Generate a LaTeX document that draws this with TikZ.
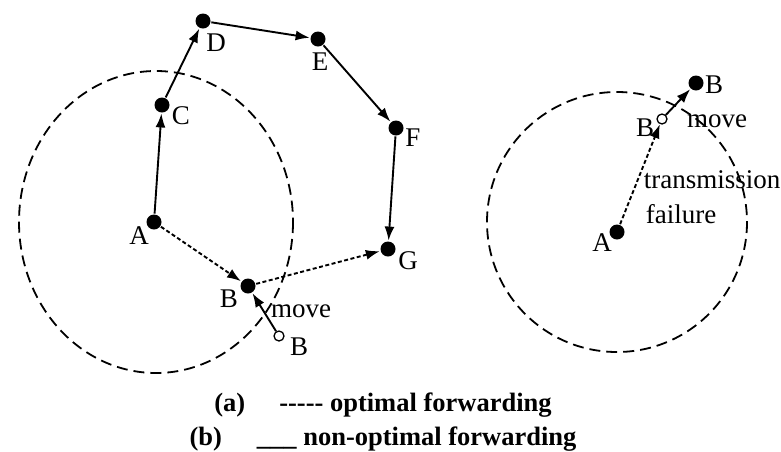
\documentclass[tikz,border=0pt]{standalone}
\usepackage{fontspec}
\setmainfont{Liberation Serif}
\usetikzlibrary{arrows.meta}

\begin{document}
\begin{tikzpicture}[x=1pt, y=-1pt, >={Latex[length=14pt,width=10pt]}, line width=1.9pt,
    dot/.style={circle, fill, inner sep=0pt, minimum size=15pt},
    hollow/.style={circle, draw, fill=white, line width=1.3pt, inner sep=0pt, minimum size=10pt},
    lbl/.style={inner sep=0pt, font=\fontsize{27}{30}\selectfont},
    captiontext/.style={inner sep=0pt, anchor=base, font=\fontsize{26.5}{30}\selectfont\bfseries},
    radiorange/.style={dash pattern=on 11pt off 6pt, line width=1.8pt},
    relay/.style={->, dash pattern=on 4pt off 2.5pt}]
  \useasboundingbox (0,0) rectangle (781,451);

  % transmission ranges
  \draw[radiorange] (156,222) ellipse [x radius=137, y radius=151];
  \draw[radiorange] (617,222) circle [radius=130];

  % (a) left network
  \node (a) at (154,222) [dot] {};  \node (la) at (139,236) [lbl] {A};
  \node (c) at (162,105) [dot] {};  \node (lc) at (181,116) [lbl] {C};
  \node (d) at (203,21)  [dot] {};  \node (ld) at (216,43)  [lbl] {D};
  \node (e) at (318,39)  [dot] {};  \node (le) at (320,62)  [lbl] {E};
  \node (f) at (396,128) [dot] {};  \node (lf) at (413,138) [lbl] {F};
  \node (g) at (388,249) [dot] {};  \node (lg) at (408,261) [lbl] {G};
  \node (b) at (248,286) [dot] {};  \node (lb) at (229,299) [lbl] {B};
  \node (b0) at (279,336) [hollow] {}; \node (lb0) at (299,347) [lbl] {B};
  \node (mv) at (301,317) [lbl, anchor=base] {move};
  \draw[->] (a)--(c);  \draw[->] (c)--(d);  \draw[->] (d)--(e);
  \draw[->] (e)--(f);  \draw[->] (f)--(g);
  \draw[relay] (a)--(b);  \draw[relay] (b)--(g);
  \draw[->] (b0)--(b);

  % (b) right network
  \node (ra) at (617,232) [dot] {};  \node (lra) at (602,243) [lbl] {A};
  \node (rb0) at (662,119) [hollow] {}; \node (lrb0) at (645,128) [lbl] {B};
  \node (rb) at (696,83) [dot] {};  \node (lrb) at (714,85) [lbl] {B};
  \node (rmv) at (717,127) [lbl, anchor=base] {move};
  \node (tx) at (643,188) [lbl, anchor=base west] {transmission};
  \node (fl) at (645,223) [lbl, anchor=base west] {failure};
  \draw[relay] (ra)--(rb0);  \draw[->] (rb0)--(rb);

  % caption
  \node (cpa) at (383,411) [captiontext] {(a)\hspace{34pt}-\kern0pt-\kern0pt-\kern0pt-\kern0pt- optimal forwarding};
  \node (cpb) at (383,445) [captiontext] {(b)\hspace{35pt}\_\_\_ non-optimal forwarding};
\end{tikzpicture}
\end{document}
